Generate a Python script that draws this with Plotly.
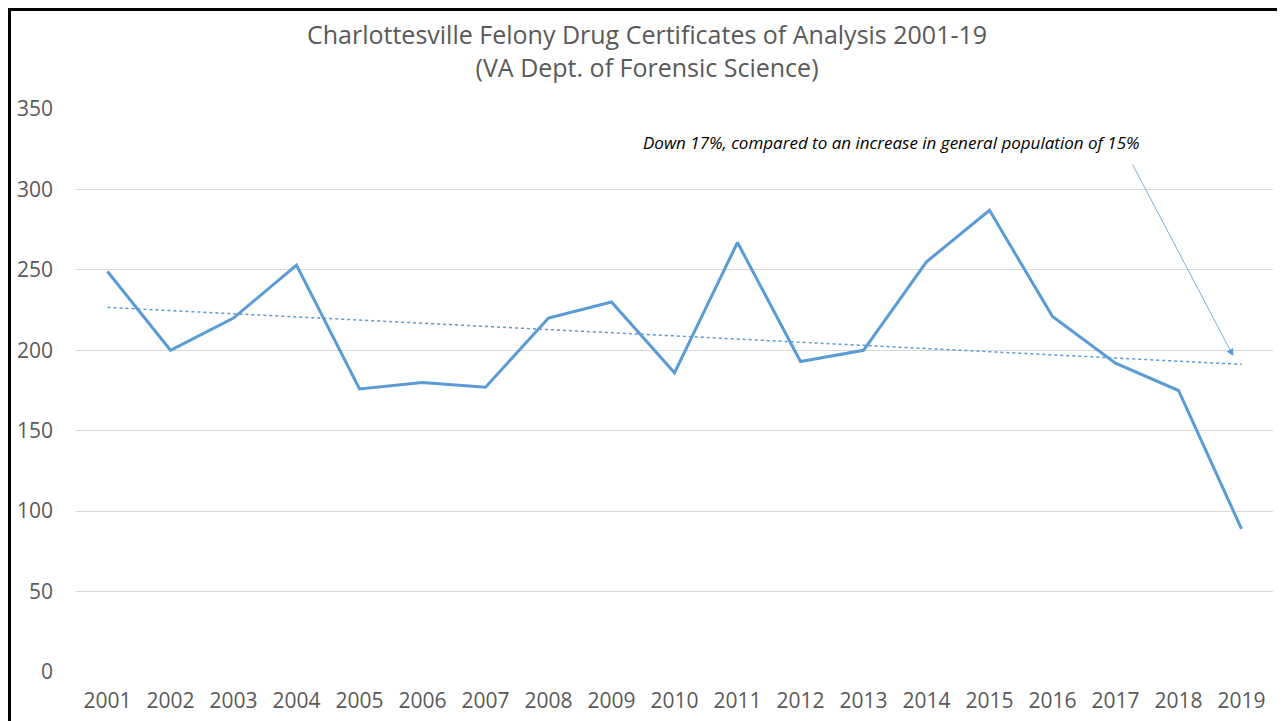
import numpy as np
import plotly.graph_objects as go

years = list(range(2001, 2020))
certificates = [249, 200, 220, 253, 176, 180, 177, 220, 230, 186, 267, 193, 200, 255, 287, 221, 192, 175, 89]
title_lines = ["Charlottesville Felony Drug Certificates of Analysis 2001-19", "(VA Dept. of Forensic Science)"]
note_text = "Down 17%, compared to an increase in general population of 15%"
y_ticks = [0, 50, 100, 150, 200, 250, 300, 350]

blue = "#5B9BD5"
gray_text = "#595959"

# linear trendline (least squares, as Excel draws it)
slope, intercept = np.polyfit(years, certificates, 1)
trend = [slope * y + intercept for y in years]

W, H = 1277, 713
ML, MR, MT, MB = 68, 12, 101, 49
PW = W - ML - MR
PH = H - MT - MB

fig = go.Figure()
fig.add_trace(go.Scatter(x=years, y=trend, mode="lines",
                         line=dict(color=blue, width=1.5, dash="dot"),
                         hoverinfo="skip", showlegend=False))
fig.add_trace(go.Scatter(x=years, y=certificates, mode="lines",
                         line=dict(color=blue, width=3),
                         showlegend=False))

fig.update_layout(
    width=W, height=H,
    margin=dict(l=ML, r=MR, t=MT, b=MB, autoexpand=False),
    paper_bgcolor="white", plot_bgcolor="white",
    font=dict(family="Open Sans", color=gray_text, size=21),
    xaxis=dict(range=[2000.5, 2019.5], tickmode="array", tickvals=years,
               ticktext=[str(y) for y in years], showgrid=False, zeroline=False,
               showline=False, ticks="", ticklabelstandoff=14, automargin=False,
               tickfont=dict(size=21, color=gray_text)),
    yaxis=dict(range=[0, 350], tickmode="array", tickvals=y_ticks,
               showgrid=True, gridcolor="#D9D9D9", gridwidth=1, zeroline=False,
               showline=False, ticks="", ticklabelstandoff=22, automargin=False,
               tickfont=dict(size=21, color=gray_text)),
    showlegend=False,
)

# title (two lines), centred on the whole chart area
fig.add_annotation(x=(639 - ML) / PW, y=1 + (MT - 42) / PH, xref="paper", yref="paper",
                   text="<br>".join(title_lines), showarrow=False,
                   xanchor="center", yanchor="middle",
                   font=dict(family="Open Sans", size=25, color=gray_text))

fig.add_annotation(x=2013.45, y=329, xref="x", yref="y", text=note_text,
                   showarrow=False,
                   font=dict(family="Open Sans", size=17, color="black", style="italic"))

fig.add_annotation(x=2018.87, y=196.4, xref="x", yref="y",
                   ax=2017.26, ay=316.3, axref="x", ayref="y",
                   text="", showarrow=True, arrowhead=2, arrowsize=1.8,
                   arrowwidth=0.8, arrowcolor=blue)

# chart border (black frame)
fig.add_shape(type="rect", xref="paper", yref="paper",
              x0=(1.5 - ML) / PW, x1=(W + 10 - ML) / PW,
              y0=-(MB + 20) / PH, y1=1 + (MT - 1.5) / PH,
              line=dict(color="black", width=3), fillcolor="rgba(0,0,0,0)", layer="above")

fig.write_html("out.html")
